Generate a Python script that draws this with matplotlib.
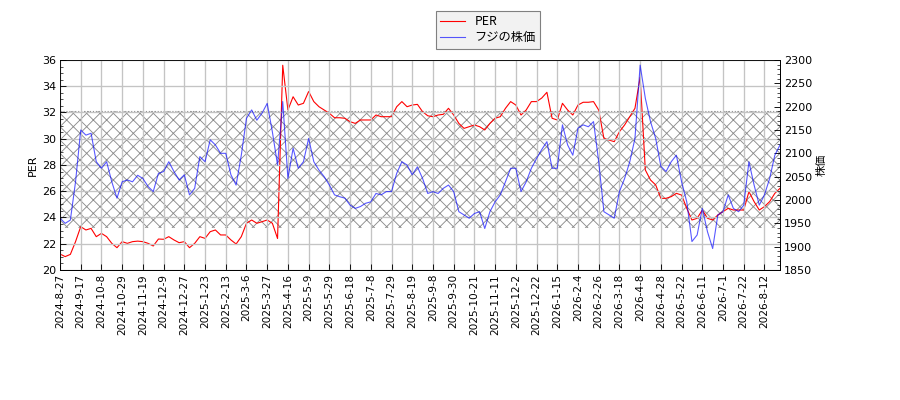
import matplotlib
matplotlib.use('Agg')
import matplotlib.pyplot as plt
import numpy as np
from matplotlib.ticker import MultipleLocator

plt.rcParams['font.family'] = ['DejaVu Sans', 'Noto Sans CJK JP']
plt.rcParams['hatch.color'] = '#8c8c8c'
plt.rcParams['hatch.linewidth'] = 0.8

# one sample every ~3.5 trading days, tick label every 4 samples
per = [
    21.22, 21.02, 21.19, 22.16, 23.3, 23.05, 23.17, 22.54, 22.79, 22.54,
    22.03, 21.7, 22.16, 22.03, 22.16, 22.2, 22.16, 22.03, 21.83, 22.36,
    22.34, 22.54, 22.29, 22.08, 22.16, 21.7, 22.03, 22.54, 22.41, 22.92,
    23.05, 22.67, 22.67, 22.29, 21.98, 22.54, 23.56, 23.81, 23.56, 23.68,
    23.81, 23.56, 22.4, 35.6, 32.19, 33.2, 32.57, 32.7, 33.6, 32.83,
    32.44, 32.19, 31.94, 31.6, 31.6, 31.56, 31.3, 31.17, 31.43, 31.43,
    31.43, 31.81, 31.68, 31.68, 31.68, 32.44, 32.83, 32.44, 32.57, 32.62,
    32.06, 31.75, 31.68, 31.81, 31.86, 32.32, 31.81, 31.17, 30.79, 30.92,
    31.05, 30.92, 30.67, 31.17, 31.56, 31.68, 32.32, 32.83, 32.57, 31.81,
    32.19, 32.83, 32.83, 33.1, 33.54, 31.56, 31.43, 32.7, 32.19, 31.81,
    32.57, 32.78, 32.78, 32.83, 32.19, 30.03, 29.9, 29.78, 30.54, 31.05,
    31.68, 32.32, 34.7, 27.62, 26.86, 26.48, 25.46, 25.46, 25.59, 25.84,
    25.71, 24.7, 23.81, 23.94, 24.57, 23.94, 23.81, 24.19, 24.44, 24.7,
    24.57, 24.57, 24.57, 25.97, 25.21, 24.57, 24.83, 25.21, 25.84, 26.22,
]
price = [
    1961, 1950, 1957, 2039, 2150, 2139, 2143, 2082, 2068, 2082,
    2039, 2004, 2039, 2043, 2039, 2053, 2046, 2029, 2018, 2057,
    2061, 2082, 2061, 2043, 2054, 2011, 2025, 2093, 2082, 2129,
    2118, 2100, 2100, 2054, 2032, 2096, 2175, 2193, 2171, 2186,
    2207, 2146, 2075, 2211, 2046, 2111, 2068, 2082, 2132, 2082,
    2064, 2050, 2032, 2011, 2007, 2004, 1989, 1982, 1986, 1993,
    1996, 2014, 2011, 2018, 2018, 2057, 2082, 2075, 2054, 2071,
    2046, 2014, 2018, 2014, 2025, 2032, 2018, 1975, 1968, 1961,
    1971, 1975, 1939, 1975, 1996, 2011, 2039, 2068, 2068, 2018,
    2039, 2068, 2089, 2108, 2125, 2068, 2068, 2161, 2118, 2096,
    2154, 2161, 2157, 2168, 2082, 1975, 1968, 1961, 2018, 2046,
    2082, 2132, 2289, 2218, 2168, 2132, 2072, 2061, 2082, 2096,
    2039, 1996, 1911, 1925, 1982, 1932, 1896, 1968, 1975, 2011,
    1982, 1975, 1989, 2082, 2032, 1989, 2011, 2046, 2096, 2118,
]
tick_labels = [
    '2024-8-27', '2024-9-17', '2024-10-8', '2024-10-29', '2024-11-19',
    '2024-12-9', '2024-12-27', '2025-1-23', '2025-2-13', '2025-3-6',
    '2025-3-27', '2025-4-16', '2025-5-9', '2025-5-29', '2025-6-18',
    '2025-7-8', '2025-7-29', '2025-8-19', '2025-9-8', '2025-9-30',
    '2025-10-21', '2025-11-11', '2025-12-2', '2025-12-22', '2026-1-15',
    '2026-2-4', '2026-2-26', '2026-3-18', '2026-4-8', '2026-4-28',
    '2026-5-22', '2026-6-11', '2026-7-1', '2026-7-22', '2026-8-12',
]
band_low, band_high = 23.2, 32.1
samples_per_tick = 4

x = np.arange(len(per))

fig = plt.figure(figsize=(11.25, 5), dpi=80)
ax = fig.add_axes([60 / 900, 130 / 400, 720 / 900, 210 / 400])
ax2 = ax.twinx()

# hatched PER band
ax.fill_between([0, len(per) - 1], band_low, band_high, facecolor='none',
                edgecolor='#8c8c8c', hatch='xx', linewidth=0)
ax.axhline(band_high, color='#8c8c8c', linestyle=':', linewidth=1.0)
l1, = ax.plot(x, per, color='red', linewidth=1.0, label='PER')
l2, = ax2.plot(x, price, color='blue', alpha=0.65, linewidth=1.0,
               label='フジの株価')

ax.set_xlim(0, len(per) - 1)
ax.set_ylim(20, 36)
ax2.set_ylim(1850, 2300)
ax.set_xticks(np.arange(len(tick_labels)) * samples_per_tick)
ax.set_xticklabels(tick_labels, rotation=90, fontsize=9.5)
ax.yaxis.set_major_locator(MultipleLocator(2))
ax.yaxis.set_minor_locator(MultipleLocator(0.5))
ax2.yaxis.set_major_locator(MultipleLocator(50))
ax2.yaxis.set_minor_locator(MultipleLocator(10))
for a in (ax, ax2):
    a.tick_params(which='major', direction='in', length=5, labelsize=10)
    a.tick_params(which='minor', direction='in', length=3)
ax.tick_params(axis='x', labelsize=9.5)
ax.grid(True, color='#c4c4c4', linewidth=1.2)
ax.set_axisbelow(False)

ax.set_ylabel('PER', fontsize=10)
ax2.set_ylabel('株価', fontsize=10, family=['Noto Sans CJK JP'])

fig.legend([l1, l2], ['PER', 'フジの株価'], loc='upper left',
           bbox_to_anchor=(430 / 900, 1 - 5 / 400), fancybox=False,
           edgecolor='#808080', facecolor='#f2f2f2', framealpha=1,
           prop={'family': 'Noto Sans CJK JP', 'size': 11},
           handlelength=2.0, borderpad=0.35, labelspacing=0.25,
           handletextpad=0.8)

fig.savefig('out.png', dpi=80)
